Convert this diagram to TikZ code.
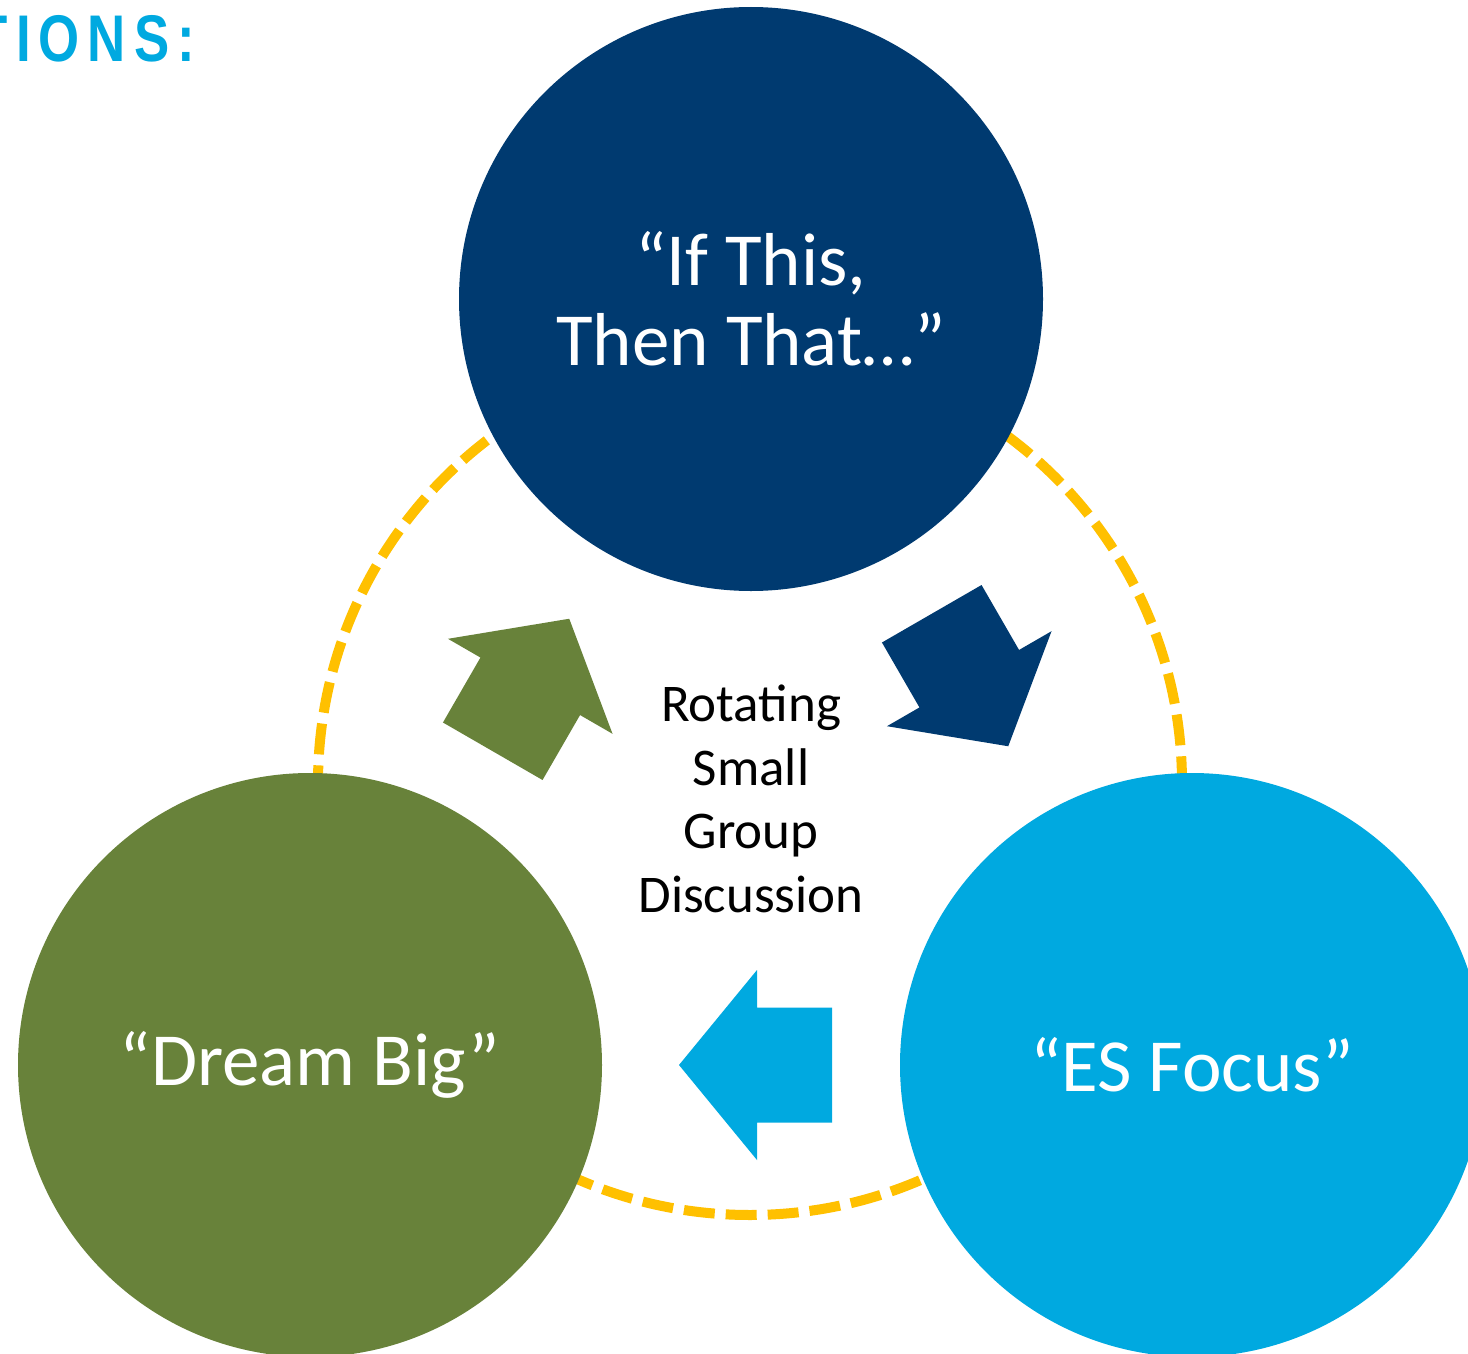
\documentclass[tikz,border=0pt]{standalone}
\usepackage{fontspec}
\setmainfont{Carlito}
\newfontfamily\headfont{Liberation Sans}
\definecolor{cDark}{RGB}{0,58,112}
\definecolor{cGreen}{RGB}{104,130,58}
\definecolor{cLight}{RGB}{0,169,224}
\definecolor{cGold}{RGB}{255,192,0}
\tikzset{
  bigcircle/.style={circle, minimum size=584pt, inner sep=0pt, text=white,
    align=center, font=\fontsize{75}{80}\selectfont},
  ring/.style={draw=cGold, line width=10pt, dash pattern=on 31pt off 11pt}
}
\newcommand{\arrowpoly}{(-76.5,-57.5) -- (-1.5,-57.5) -- (-1.5,-95) -- (76.5,0) -- (-1.5,95) -- (-1.5,57.5) -- (-76.5,57.5) -- cycle}
\newcommand{\hk}{\kern10pt}
\begin{document}
\begin{tikzpicture}[x=1pt,y=-1pt]
\useasboundingbox (0,0) rectangle (1468,1354);
\clip (0,0) rectangle (1468,1354);
\fill[white] (0,0) rectangle (1468,1354);
% dashed ring
\coordinate (ringc) at (750,783);
\draw[ring] (ringc) circle[radius=432];
% circles
\node[bigcircle, fill=cDark] (ift) at (751,299) {``If This,\\Then That…''};
\node[bigcircle, fill=cGreen] (dream) at (310,1065) {``Dream Big''};
\node[bigcircle, fill=cLight] (es) at (1192,1065) {``ES Focus''};
% block arrows
\begin{scope}[shift={(531,685)}, rotate=60]
  \fill[cGreen] \arrowpoly;
\end{scope}
\begin{scope}[shift={(970,680)}, rotate=-60]
  \fill[cDark] \arrowpoly;
\end{scope}
\begin{scope}[shift={(755.5,1065)}, rotate=180]
  \fill[cLight] \arrowpoly;
\end{scope}
% centre text
\node[align=center, font=\fontsize{53}{63.5}\selectfont] (mid) at (751,799)
  {Rotating\\Small\\Group\\Discussion};
% heading fragment
\node[anchor=base east, inner sep=0pt, text=cLight,
  font=\headfont\bfseries\fontsize{66}{66}\selectfont] (head) at (195,62)
  {\scalebox{0.8}[1]{T\hk I\hk O\hk N\hk S\hk :}};
\end{tikzpicture}
\end{document}
